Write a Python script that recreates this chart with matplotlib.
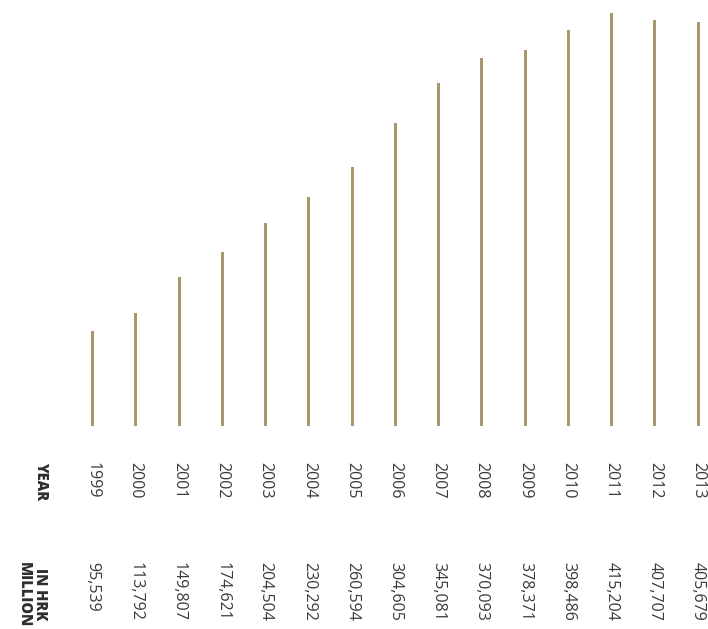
import matplotlib
matplotlib.use("Agg")
import matplotlib.pyplot as plt

# Annual figures, HRK million
years = ["1999", "2000", "2001", "2002", "2003", "2004", "2005", "2006",
         "2007", "2008", "2009", "2010", "2011", "2012", "2013"]
values = [95539, 113792, 149807, 174621, 204504, 230292, 260594, 304605,
          345081, 370093, 378371, 398486, 415204, 407707, 405679]
value_labels = ["95,539", "113,792", "149,807", "174,621", "204,504", "230,292",
                "260,594", "304,605", "345,081", "370,093", "378,371", "398,486",
                "415,204", "407,707", "405,679"]

BAR_COLOR = "#a8986a"
TEXT_COLOR = "#3a3a3a"

W, H = 708, 629
X0, DX = 92.5, 43.25          # first bar centre and spacing in pixels
BASE = 426                    # baseline pixel row
SCALE = 413 / 415204          # pixels per unit value


def px_to_value(py):
    return (BASE - py) / SCALE


fig = plt.figure(figsize=(W / 100, H / 100), dpi=100)
ax = fig.add_axes([0, 0, 1, 1])
ax.set_xlim(-X0 / DX, (W - X0) / DX)
ax.set_ylim(px_to_value(H), px_to_value(0))
ax.axis("off")

xs = list(range(len(years)))
ax.bar(xs, values, width=3 / DX, color=BAR_COLOR, linewidth=0)

y_year = px_to_value(462)
y_val = px_to_value(562)
for x, yr, lab in zip(xs, years, value_labels):
    ax.text(x, y_year, yr, rotation=-90, ha="center", va="top",
            fontsize=11.5, family="Open Sans", color=TEXT_COLOR)
    ax.text(x, y_val, lab, rotation=-90, ha="center", va="top",
            fontsize=11.5, family="Open Sans", color=TEXT_COLOR)

ax.text((41 - X0) / DX, y_year, "YEAR", rotation=-90, ha="center", va="top",
        fontsize=10.5, family="Open Sans", weight="heavy", color="#2e2e2e")
ax.text((32 - X0) / DX, y_val, "IN HRK\nMILLION", rotation=-90, ha="center",
        va="top", fontsize=10.5, family="Open Sans", weight="heavy",
        color="#2e2e2e", linespacing=1.0)

fig.savefig("out.png", dpi=100)
